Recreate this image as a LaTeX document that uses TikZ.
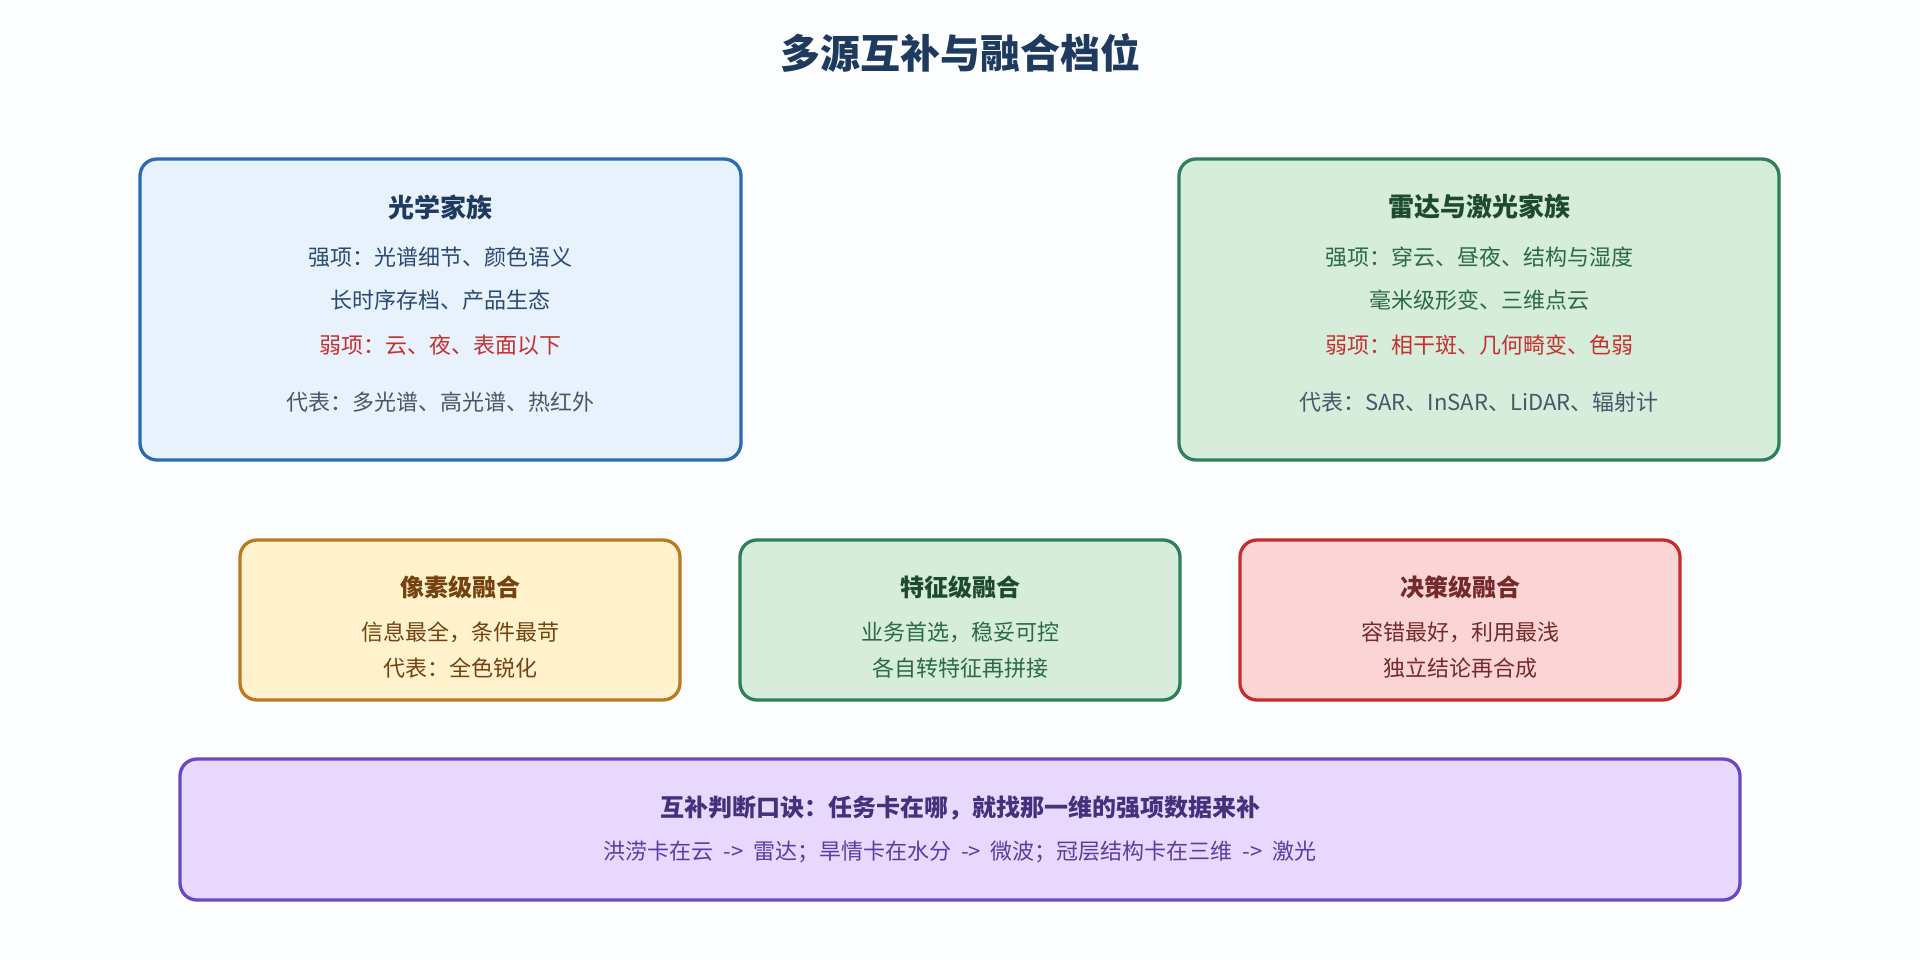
\documentclass[tikz,border=0pt]{standalone}
\usepackage{fontspec}
\setmainfont{Noto Sans CJK SC}
\usepackage{tikz}
\usetikzlibrary{positioning}

\definecolor{pagebg}{HTML}{FCFDFE}
\definecolor{navy}{HTML}{1E3A5F}
\definecolor{grayline}{HTML}{4A5568}
\definecolor{weakred}{HTML}{C53030}
% optical
\definecolor{optfill}{HTML}{E7F2FD}
\definecolor{optdraw}{HTML}{2B6CB0}
\definecolor{opttext}{HTML}{2A4A72}
% radar / feature
\definecolor{grnfill}{HTML}{D5EDDA}
\definecolor{grndraw}{HTML}{2F8058}
\definecolor{grnhead}{HTML}{1D4A30}
\definecolor{grntext}{HTML}{2A6A45}
% pixel
\definecolor{pixfill}{HTML}{FFF2CC}
\definecolor{pixdraw}{HTML}{B87A22}
\definecolor{pixtext}{HTML}{74420F}
% decision
\definecolor{decfill}{HTML}{FBD5D5}
\definecolor{decdraw}{HTML}{C62E2E}
\definecolor{dectext}{HTML}{742A2A}
% rule
\definecolor{rulfill}{HTML}{E9D8FD}
\definecolor{ruldraw}{HTML}{6B48C2}
\definecolor{rulhead}{HTML}{45307C}
\definecolor{rultext}{HTML}{5A3E9E}

\newcommand{\goesto}{\hspace{0.45em}->\hspace{0.45em}}

\tikzset{
  box/.style={draw, line width=3.3pt, rounded corners=17pt},
  heading/.style={font=\fontsize{26pt}{30pt}\selectfont\bfseries, inner sep=0pt},
  subhead/.style={font=\fontsize{24pt}{28pt}\selectfont\bfseries, inner sep=0pt},
  body/.style={font=\fontsize{22pt}{26pt}\selectfont, inner sep=0pt}
}

\begin{document}
\begin{tikzpicture}[x=1pt, y=-1pt]
  \fill [pagebg] (0,0) rectangle (1920,960);
  \useasboundingbox (0,0) rectangle (1920,960);

  \node [font=\fontsize{40pt}{45pt}\selectfont\bfseries, text=navy, inner sep=0pt] (title) at (960, 53) {多源互补与融合档位};

  % two families
  \draw [box, draw=optdraw, fill=optfill] (140,159) rectangle (741,460);
  \node [box, draw=none, minimum width=601pt, minimum height=301pt] (optical) at (440.5, 309.5) {};
  \node [heading, text=navy] (optical-head) at (440.5, 207) {光学家族};
  \node [body, text=opttext] (optical-s1) at (440.5, 257) {强项：光谱细节、颜色语义};
  \node [body, text=opttext] (optical-s2) at (440.5, 300) {长时序存档、产品生态};
  \node [body, text=weakred] (optical-w) at (440.5, 345) {弱项：云、夜、表面以下};
  \node [body, text=grayline] (optical-r) at (440.5, 402) {代表：多光谱、高光谱、热红外};

  \draw [box, draw=grndraw, fill=grnfill] (1179,159) rectangle (1779,460);
  \node [box, draw=none, minimum width=600pt, minimum height=301pt] (radar) at (1479, 309.5) {};
  \node [heading, text=grnhead] (radar-head) at (1479, 207) {雷达与激光家族};
  \node [body, text=grntext] (radar-s1) at (1479, 257) {强项：穿云、昼夜、结构与湿度};
  \node [body, text=grntext] (radar-s2) at (1479, 300) {毫米级形变、三维点云};
  \node [body, text=weakred] (radar-w) at (1479, 345) {弱项：相干斑、几何畸变、色弱};
  \node [body, text=grayline] (radar-r) at (1479, 402) {代表：SAR、InSAR、LiDAR、辐射计};

  % fusion levels
  \foreach \n/\x/\fc/\dc/\hc/\tc/\head/\la/\lb in {
      pixel/460/pixfill/pixdraw/pixtext/pixtext/像素级融合/信息最全，条件最苛/代表：全色锐化,
      feature/960/grnfill/grndraw/grnhead/grntext/特征级融合/业务首选，稳妥可控/各自转特征再拼接,
      decision/1460/decfill/decdraw/dectext/dectext/决策级融合/容错最好，利用最浅/独立结论再合成}
    {
      \draw [box, draw=\dc, fill=\fc] (\x-220,540) rectangle (\x+220,700);
      \node [minimum width=440pt, minimum height=160pt] (\n) at (\x, 620) {};
      \node [subhead, text=\hc] (\n-head) at (\x, 587) {\head};
      \node [body, text=\tc] (\n-a) at (\x, 632) {\la};
      \node [body, text=\tc] (\n-b) at (\x, 668) {\lb};
    }

  % rule of thumb
  \draw [box, draw=ruldraw, fill=rulfill] (180,759) rectangle (1740,900);
  \node [minimum width=1560pt, minimum height=141pt] (rule) at (960, 829.5) {};
  \node [subhead, text=rulhead] (rule-head) at (960, 808) {互补判断口诀：任务卡在哪，就找那一维的强项数据来补};
  \node [body, text=rultext] (rule-body) at (960, 852) {洪涝卡在云\goesto 雷达；旱情卡在水分\goesto 微波；冠层结构卡在三维\goesto 激光};
\end{tikzpicture}
\end{document}
